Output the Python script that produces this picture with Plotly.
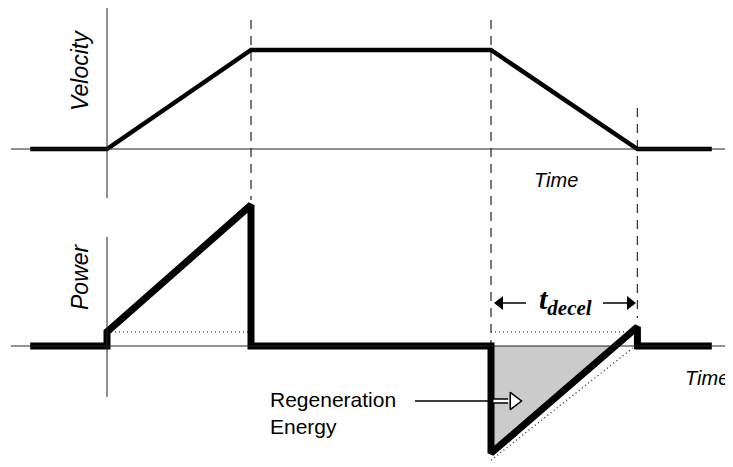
import plotly.graph_objects as go

# schematic time base: accel 0-3, cruise 3-8, decel 8-11.05
t_start, t_stop = -1.6, 12.6
t_marks = [3, 8, 11.05]

vel_t = [t_start, 0, 3, 8, 11.05, t_stop]
vel_v = [0, 0, 1, 1, 0, 0]

pow_t = [t_start, 0, 0, 3, 3, 8, 8, 11.05, 11.05, t_stop]
pow_p = [0, 0, 10, 100, 0, 0, -76, 13.5, 0, 0]

# friction level (dotted) and the kinetic part during decel (dotted)
fric_t = [0, 3, None, 8, 10.95]
fric_p = [10, 10, None, 10, 10]
kin_t = [8, 10.95]
kin_p = [-81, -1.5]

# regeneration energy (shaded area)
regen_t = [8, 8, 10.59]
regen_p = [0, -76, 0]

# page body has an 8px margin, so the figure is drawn 8px smaller
OFF = 8
W, H = 733, 467
FW, FH = W - OFF, H - OFF
PX_T = 48.0          # px per time unit
X0 = 107             # px of t = 0 (window coords)
V0, PX_V = 149, 99   # velocity zero line, px per unit
P0, PX_P = 346, 1.41 # power zero line, px per unit


def t_of(px):
    return (px - X0) / PX_T

def v_of(py):
    return (V0 - py) / PX_V

def p_of(py):
    return (P0 - py) / PX_P

def paper_x(px):
    return (px - OFF) / FW

def paper_y(py):
    return 1 - (py - OFF) / FH


fig = go.Figure()

fig.add_trace(go.Scatter(x=regen_t, y=regen_p, yaxis="y2", fill="toself",
                         fillcolor="#cbcbcb", line=dict(width=0),
                         mode="lines", hoverinfo="skip"))
fig.add_trace(go.Scatter(x=fric_t, y=fric_p, yaxis="y2", mode="lines",
                         line=dict(color="#333", width=1.4, dash="1px,3px")))
fig.add_trace(go.Scatter(x=kin_t, y=kin_p, yaxis="y2", mode="lines",
                         line=dict(color="#333", width=1.4, dash="1px,3px")))

fig.add_trace(go.Scatter(x=vel_t, y=vel_v, mode="lines",
                         line=dict(color="black", width=4.5)))
fig.add_trace(go.Scatter(x=pow_t, y=pow_p, yaxis="y2", mode="lines",
                         line=dict(color="black", width=7)))

# regeneration arrow: thin shaft, hollow stub, white head
arrow_p = p_of(401)
fig.add_trace(go.Scatter(x=[t_of(415), 8], y=[arrow_p, arrow_p], yaxis="y2",
                         mode="lines", line=dict(color="black", width=1.3)))
fig.add_trace(go.Scatter(x=[8, t_of(508)], y=[arrow_p, arrow_p], yaxis="y2",
                         mode="lines", line=dict(color="black", width=5.5)))
fig.add_trace(go.Scatter(x=[8.05, t_of(509)], y=[arrow_p, arrow_p], yaxis="y2",
                         mode="lines", line=dict(color="white", width=2.5)))
fig.add_trace(go.Scatter(x=[t_of(514)], y=[arrow_p], yaxis="y2", mode="markers",
                         marker=dict(symbol="triangle-right", size=15, color="white",
                                     line=dict(color="black", width=1.5))))

# t_decel span arrows
span_y = p_of(303)
fig.add_trace(go.Scatter(x=[t_of(499), t_of(526), None, t_of(603), t_of(631)],
                         y=[span_y, span_y, None, span_y, span_y], yaxis="y2",
                         mode="lines", line=dict(color="black", width=1.5)))
fig.add_trace(go.Scatter(x=[t_of(500), t_of(630)], y=[span_y, span_y], yaxis="y2",
                         mode="markers",
                         marker=dict(symbol=["triangle-left", "triangle-right"],
                                     size=12, color="black", line=dict(width=0))))

shapes = []
# thin axis lines
shapes.append(dict(type="line", xref="x", yref="y", x0=t_of(11), x1=t_of(731),
                   y0=0, y1=0, line=dict(color="#222", width=1)))
shapes.append(dict(type="line", xref="x", yref="y2", x0=t_of(11), x1=t_of(731),
                   y0=0, y1=0, line=dict(color="#222", width=1)))
shapes.append(dict(type="line", xref="x", yref="paper", x0=0, x1=0,
                   y0=paper_y(7), y1=paper_y(198), line=dict(color="#222", width=1)))
shapes.append(dict(type="line", xref="x", yref="paper", x0=0, x1=0,
                   y0=paper_y(237), y1=paper_y(397), line=dict(color="#222", width=1)))
# dashed phase markers
dash_span = [(20, 200), (20, 345), (108, 318)]
for tm, (ya, yb) in zip(t_marks, dash_span):
    shapes.append(dict(type="line", xref="x", yref="paper", x0=tm, x1=tm,
                       y0=paper_y(ya), y1=paper_y(yb), layer="below",
                       line=dict(color="#333", width=1.3, dash="9px,7px")))

sans = "Liberation Sans, Arial, sans-serif"
lab = dict(family=sans, size=20, color="black")
big = dict(family=sans, size=23, color="black")
annotations = [
    dict(text="<i>Velocity</i>", x=paper_x(80), y=paper_y(71), textangle=-90,
         font=big),
    dict(text="<i>Power</i>", x=paper_x(80), y=paper_y(277), textangle=-90,
         font=big),
    dict(text="<i>Time</i>", x=paper_x(556), y=paper_y(180)),
    dict(text="<i>Time</i>", x=paper_x(707), y=paper_y(378)),
    dict(text="Regeneration<br>Energy", x=paper_x(268), y=paper_y(413),
         xanchor="left", align="left", font=dict(family=sans, size=21, color="black")),
    dict(text="<b><i>t<sub>decel</sub></i></b>", x=paper_x(565), y=paper_y(301),
         font=dict(family="Liberation Serif, Times New Roman, serif", size=30,
                   color="black")),
]
for a in annotations:
    a.setdefault("xref", "paper")
    a.setdefault("yref", "paper")
    a.setdefault("showarrow", False)
    a.setdefault("font", lab)
    a.setdefault("xanchor", "center")
    a.setdefault("yanchor", "middle")

fig.update_layout(
    width=FW, height=FH, autosize=False,
    margin=dict(l=0, r=0, t=0, b=0, pad=0),
    paper_bgcolor="white", plot_bgcolor="white",
    showlegend=False,
    xaxis=dict(range=[t_of(OFF), t_of(W)], visible=False, fixedrange=True),
    yaxis=dict(range=[v_of(H), v_of(OFF)], visible=False, fixedrange=True),
    yaxis2=dict(range=[p_of(H), p_of(OFF)], visible=False, overlaying="y",
                fixedrange=True),
    shapes=shapes,
    annotations=annotations,
)

fig.write_html("out.html")
